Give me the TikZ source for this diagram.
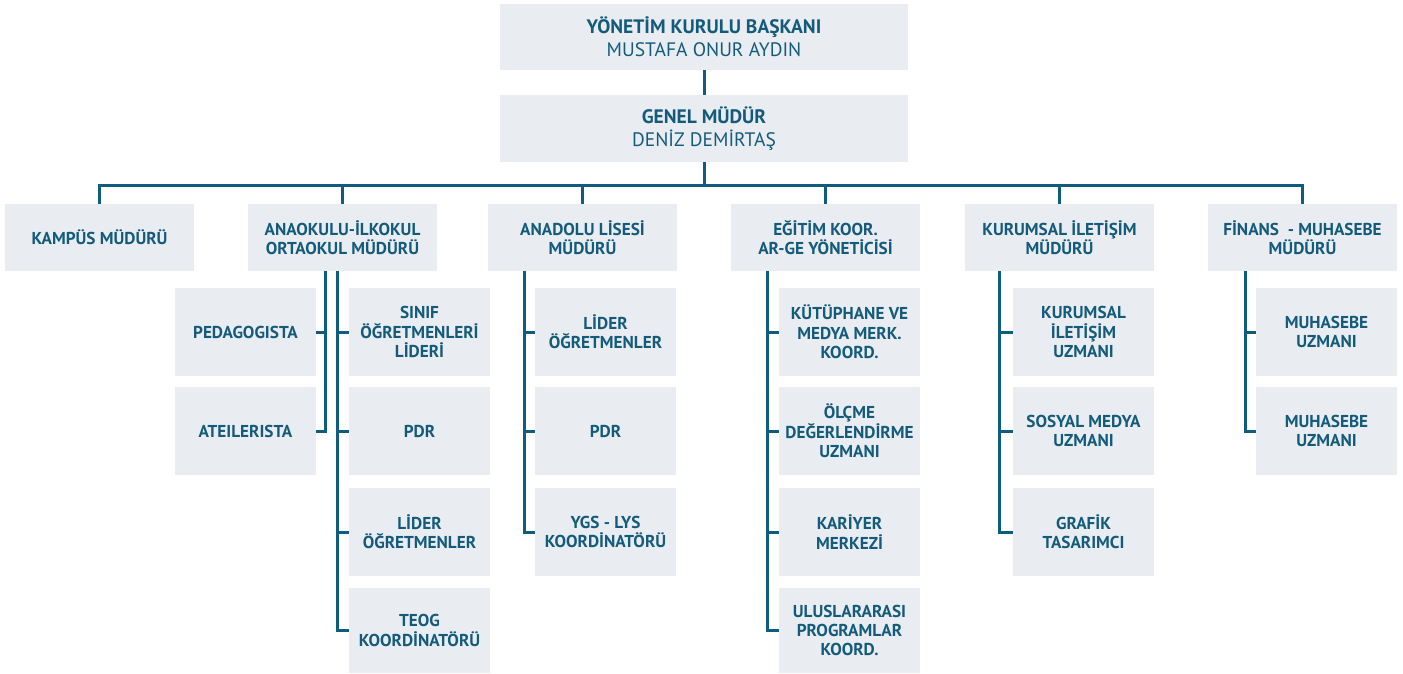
\documentclass[tikz,border=0pt]{standalone}
\usepackage{fontspec}
\setmainfont{PT Sans}
\definecolor{boxfill}{HTML}{E9ECF0}
\definecolor{ink}{HTML}{145B7B}
\definecolor{wire}{HTML}{0F5D7E}
\tikzset{
  box/.style={fill=boxfill, inner sep=0pt, outer sep=0pt, align=center, text=ink,
    font=\fontsize{17.2}{19.3}\selectfont\bfseries},
  topbox/.style={box, minimum width=408pt},
  lvtwo/.style={box, minimum width=189pt, minimum height=67pt},
  lvthree/.style={box, minimum width=141pt, minimum height=88pt},
  wireline/.style={draw=wire, line width=3pt},
}
\begin{document}
\begin{tikzpicture}[x=1pt,y=-1pt]
\useasboundingbox (0,0) rectangle (1403,673);
% top
\node[topbox, minimum height=66pt, font=\fontsize{19.5}{22.7}\selectfont] (yk) at (704,37)
  {\textbf{YÖNETİM KURULU BAŞKANI}\\MUSTAFA ONUR AYDIN};
\node[topbox, minimum height=67pt, font=\fontsize{19.5}{22.7}\selectfont] (gm) at (704,128.5)
  {\textbf{GENEL MÜDÜR}\\DENİZ DEMİRTAŞ};
% level 2
\node[lvtwo] (k1) at (99.5,237.5) {KAMPÜS MÜDÜRÜ};
\node[lvtwo] (k2) at (342.5,237.5) {ANAOKULU-İLKOKUL\\ORTAOKUL MÜDÜRÜ};
\node[lvtwo] (k3) at (582.5,237.5) {ANADOLU LİSESİ\\MÜDÜRÜ};
\node[lvtwo] (k4) at (825.5,237.5) {EĞİTİM KOOR.\\AR-GE YÖNETİCİSİ};
\node[lvtwo] (k5) at (1059.5,237.5) {KURUMSAL İLETİŞİM\\MÜDÜRÜ};
\node[lvtwo] (k6) at (1302.5,237.5) {FİNANS~ - MUHASEBE\\MÜDÜRÜ};
% level 3 : anaokulu
\node[lvthree] (ped) at (245.5,332) {PEDAGOGISTA};
\node[lvthree] (ate) at (245.5,431) {ATEILERISTA};
\node[lvthree] (sol) at (419.5,332) {SINIF\\ÖĞRETMENLERİ\\LİDERİ};
\node[lvthree] (pdra) at (419.5,431) {PDR};
\node[lvthree] (lida) at (419.5,532) {LİDER\\ÖĞRETMENLER};
\node[lvthree, minimum height=85pt] (teog) at (419.5,630.5) {TEOG\\KOORDİNATÖRÜ};
% anadolu
\node[lvthree] (lidb) at (605.5,332) {LİDER\\ÖĞRETMENLER};
\node[lvthree] (pdrb) at (605.5,431) {PDR};
\node[lvthree] (ygs) at (605.5,532) {YGS - LYS\\KOORDİNATÖRÜ};
% egitim
\node[lvthree] (kut) at (849.5,332) {KÜTÜPHANE VE\\MEDYA MERK.\\KOORD.};
\node[lvthree] (olc) at (849.5,431) {ÖLÇME\\DEĞERLENDİRME\\UZMANI};
\node[lvthree] (kar) at (849.5,532) {KARİYER\\MERKEZİ};
\node[lvthree, minimum height=85pt] (ulu) at (849.5,630.5) {ULUSLARARASI\\PROGRAMLAR\\KOORD.};
% kurumsal
\node[lvthree] (kiu) at (1083.5,332) {KURUMSAL\\İLETİŞİM\\UZMANI};
\node[lvthree] (som) at (1083.5,431) {SOSYAL MEDYA\\UZMANI};
\node[lvthree] (gra) at (1083.5,532) {GRAFİK\\TASARIMCI};
% finans
\node[lvthree] (mu1) at (1326.5,332) {MUHASEBE\\UZMANI};
\node[lvthree] (mu2) at (1326.5,431) {MUHASEBE\\UZMANI};
% connectors
\coordinate (bus) at (704,185.5);
\draw[wireline] (yk.south) -- (gm.north);
\draw[wireline] (gm.south) -- (bus);
\draw[wireline] (k1.north) |- (bus) -| (k6.north);
\foreach \k in {k2,k3,k4,k5} \draw[wireline] (\k.north) -- (\k.north |- bus);
% anaokulu
\foreach \b in {ped,ate} \draw[wireline] ([xshift=-17.5pt]k2.south) |- (\b.east);
\foreach \b in {sol,pdra,lida,teog} \draw[wireline] ([xshift=-5pt]k2.south) |- (\b.west);
\foreach \b in {lidb,pdrb,ygs} \draw[wireline] ([xshift=-58.5pt]k3.south) |- (\b.west);
\foreach \b in {kut,olc,kar,ulu} \draw[wireline] ([xshift=-58pt]k4.south) |- (\b.west);
\foreach \b in {kiu,som,gra} \draw[wireline] ([xshift=-60pt]k5.south) |- (\b.west);
\foreach \b in {mu1,mu2} \draw[wireline] ([xshift=-57pt]k6.south) |- (\b.west);
\end{tikzpicture}
\end{document}
